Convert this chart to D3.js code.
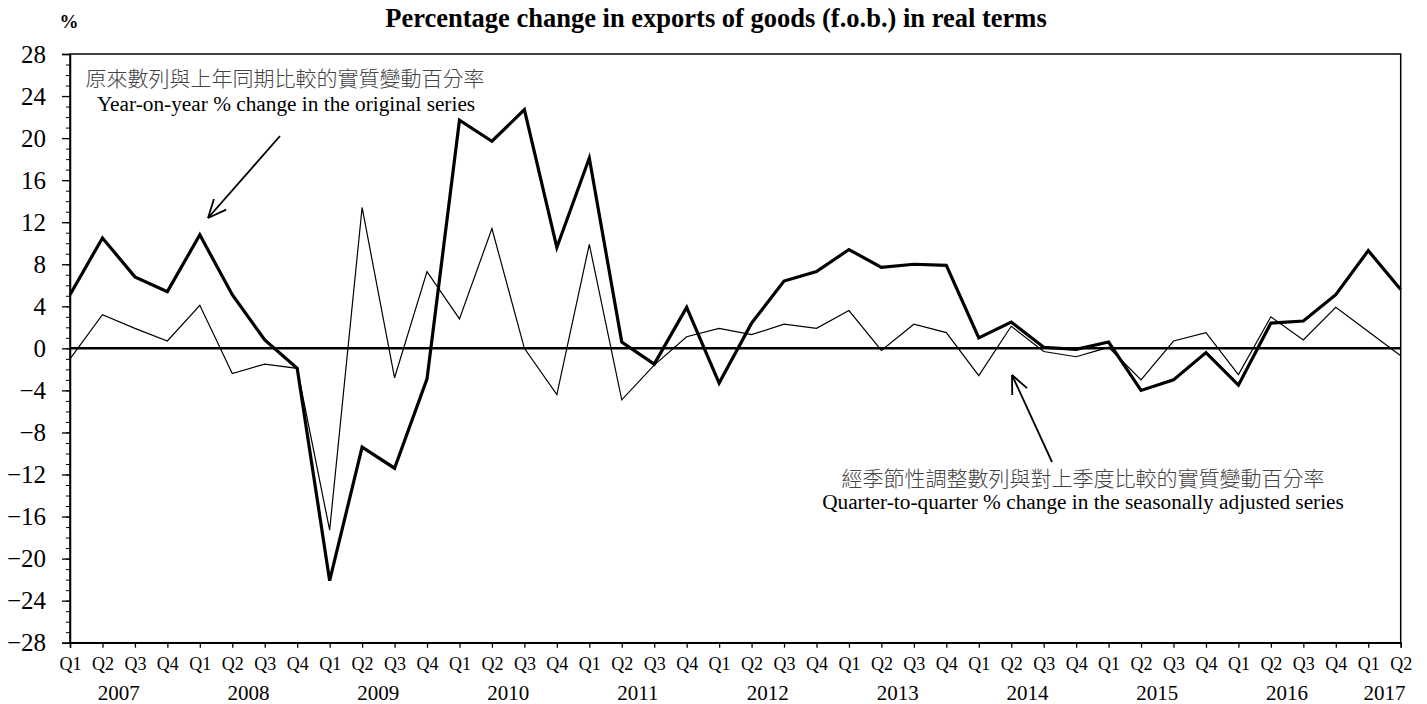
<!DOCTYPE html>
<html>
<head>
<meta charset="utf-8">
<script src="https://cdn.jsdelivr.net/npm/d3@7.9.0/dist/d3.min.js"></script>
<style>
  html, body { margin: 0; padding: 0; background: #fff; }
  svg { display: block; }
  text { font-family: "Liberation Serif", "Times New Roman", serif; fill: #000; }
  .cjk { font-family: "Noto Sans CJK TC", "Noto Sans CJK SC", sans-serif; fill: #444; font-weight: 300; }
</style>
</head>
<body>
<svg id="chart" width="1427" height="704"></svg>
<script>
// quarters Q1 2007 .. Q2 2017
const years = ['2007', '2008', '2009', '2010', '2011', '2012', '2013', '2014', '2015', '2016', '2017'];
const quarterLabels = years.flatMap(y => y === '2017' ? ['Q1', 'Q2'] : ['Q1', 'Q2', 'Q3', 'Q4']);

// year-on-year % change, original series (thick line)
const yoyChange = [
  5.1, 10.5, 6.8, 5.4,
  10.8, 5.1, 0.8, -1.9,
  -22.1, -9.4, -11.4, -2.9,
  21.7, 19.7, 22.7, 9.6,
  18.1, 0.6, -1.5, 3.9,
  -3.3, 2.4, 6.4, 7.3,
  9.4, 7.7, 8.0, 7.9,
  1.0, 2.5, 0.1, -0.1,
  0.6, -4.0, -3.0, -0.4,
  -3.5, 2.4, 2.6, 5.1,
  9.3, 5.6
];

// quarter-to-quarter % change, seasonally adjusted (thin line)
const qoqChange = [
  -1.0, 3.2, 1.9, 0.7,
  4.1, -2.4, -1.5, -1.9,
  -17.3, 13.4, -2.8, 7.3,
  2.8, 11.4, 0.0, -4.4,
  9.9, -4.9, -1.6, 1.1,
  1.9, 1.3, 2.3, 1.9,
  3.6, -0.2, 2.3, 1.5,
  -2.6, 2.1, -0.3, -0.8,
  0.1, -3.0, 0.7, 1.5,
  -2.5, 3.0, 0.8, 3.9,
  1.6, -0.7
];

const yTicks = d3.range(-28, 29, 4);
const yMinorTicks = d3.range(-28, 29, 1);

const plotLeft = 70, plotRight = 1400.7, plotTop = 54, plotBottom = 642.7;
const serif = '"Liberation Serif", "Times New Roman", serif';

const svg = d3.select('#chart');

const x = d3.scaleLinear().domain([0, quarterLabels.length - 1]).range([plotLeft, plotRight]);
const y = d3.scaleLinear().domain([-28, 28]).range([plotBottom, plotTop]);

// title
svg.append('text')
  .attr('x', 716).attr('y', 27)
  .attr('text-anchor', 'middle')
  .style('font-size', '26.5px').style('font-weight', 'bold')
  .text('Percentage change in exports of goods (f.o.b.) in real terms');

svg.append('text')
  .attr('x', 69).attr('y', 28)
  .attr('text-anchor', 'middle')
  .style('font-size', '19px').style('font-weight', 'bold')
  .text('%');

// frame
svg.append('rect')
  .attr('x', plotLeft).attr('y', plotTop)
  .attr('width', plotRight - plotLeft).attr('height', plotBottom - plotTop)
  .attr('fill', 'none').attr('stroke', '#000').attr('stroke-width', 1.5);

// y axis: minor ticks, then major ticks with labels
const yMinor = svg.append('g')
  .attr('transform', `translate(${plotLeft},0)`)
  .call(d3.axisLeft(y).tickValues(yMinorTicks).tickSize(4).tickFormat(''));
yMinor.select('.domain').remove();

const yAxis = svg.append('g')
  .attr('transform', `translate(${plotLeft},0)`)
  .call(d3.axisLeft(y).tickValues(yTicks).tickSize(8).tickPadding(16))
  .attr('font-family', serif)
  .attr('font-size', 25);
yAxis.select('.domain').attr('stroke-width', 1.5);
yAxis.selectAll('.tick line').attr('stroke-width', 1.3);

// x axis
const xAxis = svg.append('g')
  .attr('transform', `translate(0,${plotBottom})`)
  .call(d3.axisBottom(x)
    .tickValues(d3.range(quarterLabels.length))
    .tickSize(5)
    .tickPadding(10)
    .tickFormat(i => quarterLabels[i]))
  .attr('font-family', serif)
  .attr('font-size', 18);
xAxis.select('.domain').attr('stroke-width', 1.5);
xAxis.selectAll('.tick line').attr('stroke-width', 1.3);

// year labels centred under their quarters
years.forEach((yr, k) => {
  const first = k * 4;
  const last = Math.min(first + 3, quarterLabels.length - 1);
  svg.append('text')
    .attr('x', (x(first) + x(last)) / 2)
    .attr('y', 700)
    .attr('text-anchor', 'middle')
    .style('font-size', '21px')
    .text(yr);
});

// zero line
svg.append('line')
  .attr('x1', plotLeft).attr('x2', plotRight)
  .attr('y1', y(0)).attr('y2', y(0))
  .attr('stroke', '#000').attr('stroke-width', 2.5);

const line = d3.line().x((d, i) => x(i)).y(d => y(d));

svg.append('path')
  .datum(qoqChange)
  .attr('d', line)
  .attr('fill', 'none').attr('stroke', '#000').attr('stroke-width', 1.2)
  .attr('stroke-linejoin', 'miter');

svg.append('path')
  .datum(yoyChange)
  .attr('d', line)
  .attr('fill', 'none').attr('stroke', '#000').attr('stroke-width', 3.2)
  .attr('stroke-linejoin', 'miter');

// annotations
function arrow(x1, y1, x2, y2) {
  const g = svg.append('g').attr('stroke', '#000').attr('stroke-width', 1.8).attr('fill', 'none');
  g.append('line').attr('x1', x1).attr('y1', y1).attr('x2', x2).attr('y2', y2);
  const ang = Math.atan2(y2 - y1, x2 - x1);
  const len = 20, spread = 0.42;
  [ang + Math.PI - spread, ang + Math.PI + spread].forEach(a => {
    g.append('line')
      .attr('x1', x2).attr('y1', y2)
      .attr('x2', x2 + len * Math.cos(a)).attr('y2', y2 + len * Math.sin(a));
  });
}

svg.append('text').attr('class', 'cjk')
  .attr('x', 285).attr('y', 86).attr('text-anchor', 'middle')
  .style('font-size', '21px')
  .text('原來數列與上年同期比較的實質變動百分率');
svg.append('text')
  .attr('x', 286).attr('y', 111).attr('text-anchor', 'middle')
  .style('font-size', '21.3px')
  .text('Year-on-year % change in the original series');
arrow(280, 136, 208, 218);

svg.append('text').attr('class', 'cjk')
  .attr('x', 1083).attr('y', 486).attr('text-anchor', 'middle')
  .style('font-size', '21px')
  .text('經季節性調整數列與對上季度比較的實質變動百分率');
svg.append('text')
  .attr('x', 1083).attr('y', 509).attr('text-anchor', 'middle')
  .style('font-size', '21.3px')
  .text('Quarter-to-quarter % change in the seasonally adjusted series');
arrow(1052, 462, 1012, 375);
</script>
</body>
</html>
